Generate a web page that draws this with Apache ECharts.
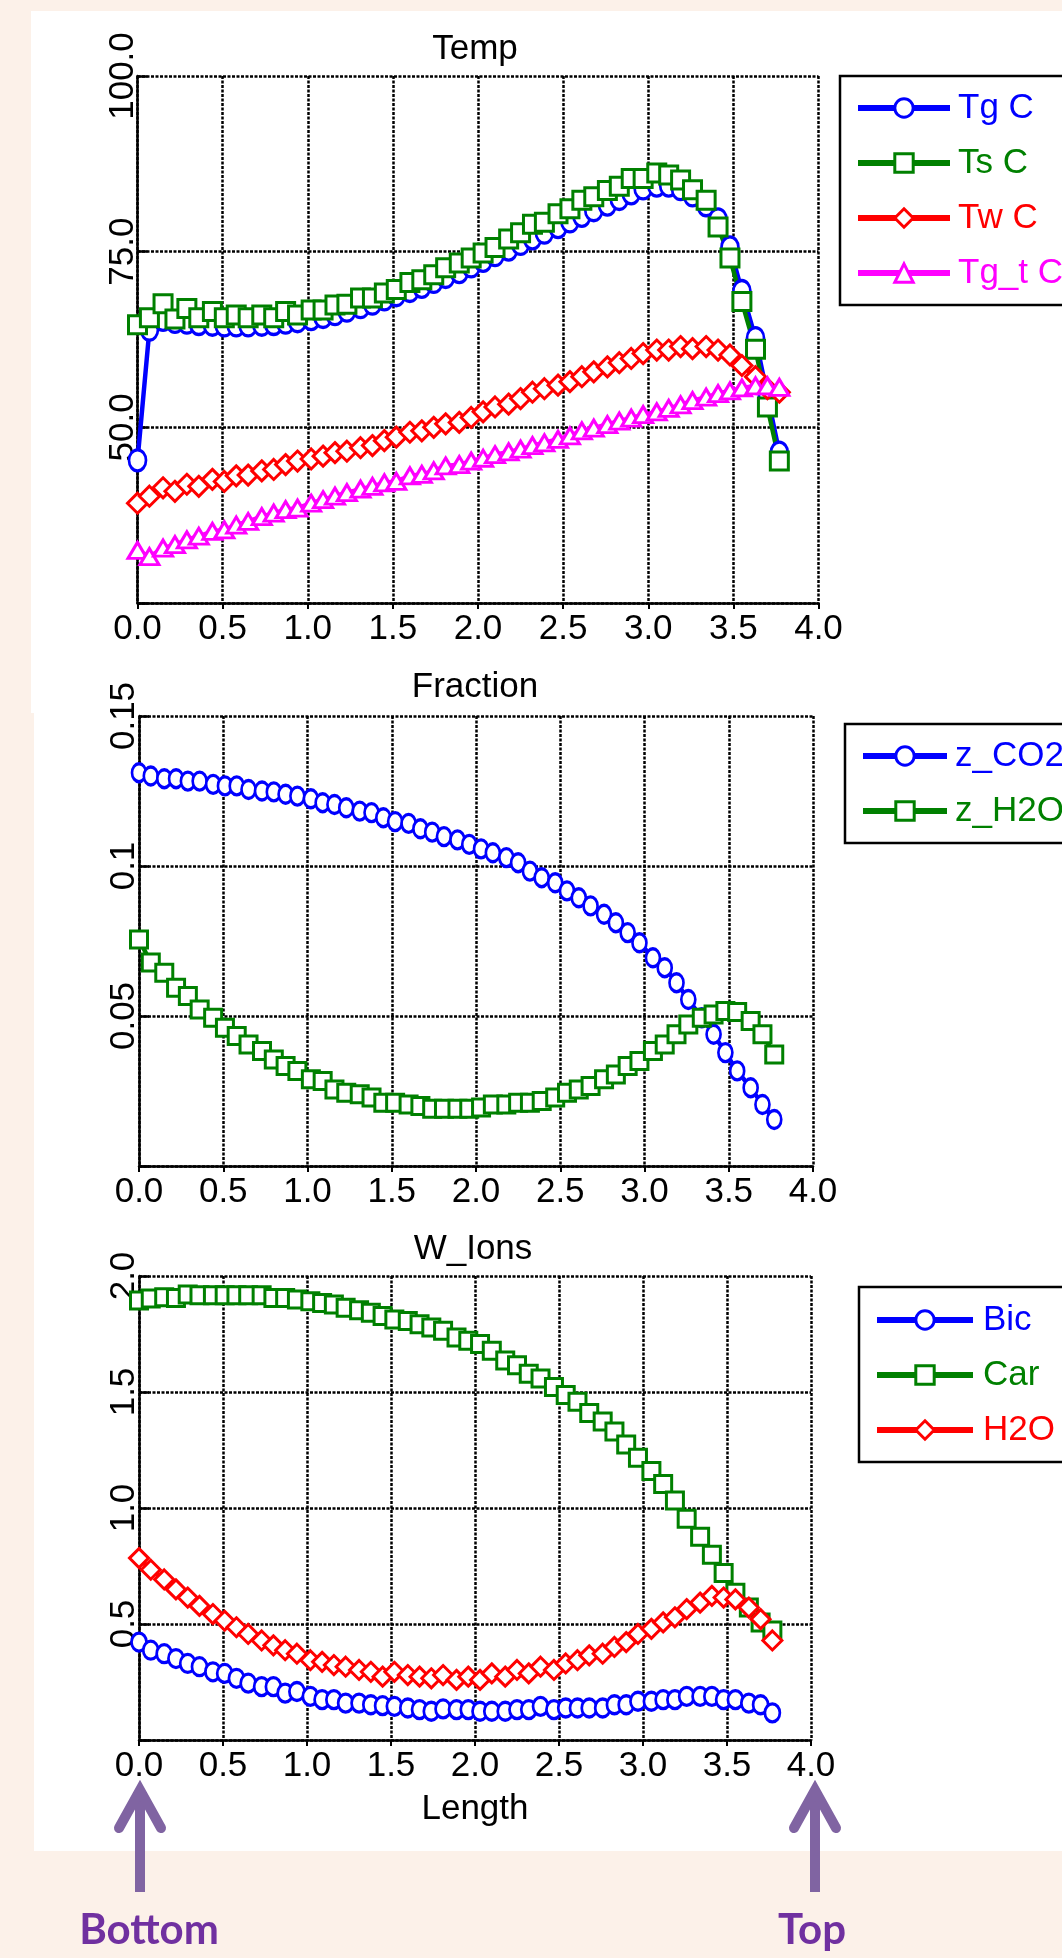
<!DOCTYPE html>
<html>
<head>
<meta charset="utf-8">
<script src="https://cdn.jsdelivr.net/npm/echarts@6/dist/echarts.min.js"></script>
<style>
  html, body { margin: 0; padding: 0; background: #fcf1e9; overflow: hidden; }
  #chart { width: 1062px; height: 1958px; }
</style>
</head>
<body>
<div id="chart"></div>
<script>
// positions along the column (same for every panel)
const lengthPts = [0.00, 0.07, 0.15, 0.22, 0.29, 0.36, 0.44, 0.51, 0.58, 0.65, 0.73, 0.80, 0.87, 0.94,
  1.02, 1.09, 1.16, 1.23, 1.31, 1.38, 1.45, 1.52, 1.60, 1.67, 1.74, 1.81, 1.89, 1.96,
  2.03, 2.10, 2.18, 2.25, 2.32, 2.39, 2.47, 2.54, 2.61, 2.68, 2.76, 2.83, 2.90, 2.97,
  3.05, 3.12, 3.19, 3.26, 3.34, 3.41, 3.48, 3.55, 3.63, 3.70, 3.77];

const lengthTicks = ['0.0', '0.5', '1.0', '1.5', '2.0', '2.5', '3.0', '3.5', '4.0'];

// Temp panel
const tgC = [45.3, 63.9, 65.3, 65.0, 64.9, 64.7, 64.6, 64.5, 64.5, 64.5, 64.6, 64.7, 64.9, 65.1,
  65.4, 65.7, 66.1, 66.6, 67.1, 67.6, 68.2, 68.8, 69.4, 70.0, 70.7, 71.4, 72.1, 72.9,
  73.7, 74.5, 75.3, 76.1, 76.9, 77.7, 78.5, 79.3, 80.1, 80.9, 81.7, 82.5, 83.3, 84.0,
  84.4, 84.4, 83.9, 83.0, 81.6, 79.6, 75.6, 69.4, 62.7, 54.5, 46.4];
const tsC = [64.6, 65.6, 67.6, 65.4, 66.9, 65.6, 66.5, 65.6, 66.0, 65.6, 66.0, 65.6, 66.5, 66.0,
  66.7, 66.7, 67.4, 67.5, 68.4, 68.4, 69.1, 69.6, 70.6, 71.0, 71.7, 72.7, 73.4, 74.1,
  74.8, 75.6, 76.8, 77.7, 78.9, 79.2, 80.4, 81.1, 82.3, 82.8, 83.7, 84.3, 85.4, 85.4,
  86.2, 85.9, 85.2, 83.8, 82.3, 78.5, 74.1, 67.9, 61.1, 52.9, 45.2];
const twC = [39.2, 40.2, 41.4, 40.9, 41.9, 41.6, 42.6, 42.3, 43.1, 43.2, 43.8, 44.0, 44.7, 45.2,
  45.5, 45.9, 46.4, 46.6, 47.1, 47.4, 48.1, 48.6, 49.3, 49.5, 50.0, 50.5, 50.7, 51.4,
  52.2, 52.9, 53.3, 54.1, 55.0, 55.5, 56.0, 56.5, 57.2, 57.9, 58.6, 59.2, 59.8, 60.5,
  61.0, 61.0, 61.5, 61.2, 61.5, 61.0, 60.3, 58.8, 57.2, 55.5, 55.0];
const tgtC = [32.5, 31.6, 32.8, 33.3, 34.0, 34.5, 35.2, 35.4, 36.1, 36.6, 37.3, 37.8, 38.3, 38.5,
  39.2, 39.7, 40.2, 40.7, 41.2, 41.6, 42.1, 42.3, 43.1, 43.3, 43.8, 44.5, 44.7, 45.2,
  45.6, 46.1, 46.5, 46.9, 47.4, 47.8, 48.3, 48.8, 49.5, 49.9, 50.4, 50.9, 51.3, 51.8,
  52.2, 52.7, 53.2, 53.8, 54.3, 54.8, 55.2, 55.6, 55.9, 55.9, 55.7];
const tempTicks = ['50.0', '75.0', '100.0'];

// Fraction panel
const zCO2 = [0.1311, 0.1300, 0.1291, 0.1291, 0.1283, 0.1283, 0.1272, 0.1267, 0.1267, 0.1255, 0.1250, 0.1247, 0.1239, 0.1233,
  0.1224, 0.1211, 0.1205, 0.1194, 0.1183, 0.1178, 0.1161, 0.1148, 0.1142, 0.1124, 0.1113, 0.1098, 0.1087, 0.1072,
  0.1057, 0.1044, 0.1028, 0.1011, 0.0983, 0.0961, 0.0944, 0.0917, 0.0894, 0.0867, 0.0839, 0.0811, 0.0778, 0.0744,
  0.0694, 0.0661, 0.0611, 0.0555, 0.0494, 0.0439, 0.0378, 0.0317, 0.0261, 0.0205, 0.0155];
const zH2O = [0.0755, 0.0678, 0.0644, 0.0594, 0.0567, 0.0522, 0.0494, 0.0461, 0.0433, 0.0405, 0.0383, 0.0355, 0.0333, 0.0317,
  0.0289, 0.0283, 0.0255, 0.0244, 0.0239, 0.0228, 0.0211, 0.0211, 0.0205, 0.0200, 0.0191, 0.0191, 0.0191, 0.0191,
  0.0195, 0.0205, 0.0205, 0.0211, 0.0211, 0.0217, 0.0228, 0.0244, 0.0255, 0.0267, 0.0289, 0.0305, 0.0333, 0.0350,
  0.0383, 0.0405, 0.0439, 0.0472, 0.0494, 0.0505, 0.0517, 0.0513, 0.0483, 0.0439, 0.0372];
const fracTicks = ['0.05', '0.1', '0.15'];

// W_Ions panel
const bic = [0.422, 0.387, 0.372, 0.351, 0.330, 0.316, 0.294, 0.287, 0.266, 0.245, 0.230, 0.230, 0.202, 0.209,
  0.188, 0.174, 0.174, 0.159, 0.159, 0.152, 0.148, 0.145, 0.138, 0.131, 0.124, 0.134, 0.131, 0.131,
  0.124, 0.124, 0.124, 0.131, 0.131, 0.145, 0.131, 0.138, 0.138, 0.138, 0.138, 0.152, 0.152, 0.167,
  0.167, 0.174, 0.174, 0.188, 0.188, 0.188, 0.174, 0.174, 0.159, 0.152, 0.117];
const car = [1.894, 1.903, 1.908, 1.905, 1.920, 1.917, 1.917, 1.917, 1.917, 1.917, 1.917, 1.905, 1.905, 1.899,
  1.891, 1.884, 1.877, 1.863, 1.852, 1.842, 1.828, 1.813, 1.806, 1.792, 1.778, 1.764, 1.735, 1.721,
  1.707, 1.678, 1.636, 1.615, 1.579, 1.558, 1.522, 1.487, 1.458, 1.409, 1.373, 1.330, 1.274, 1.217,
  1.160, 1.103, 1.032, 0.954, 0.876, 0.798, 0.720, 0.635, 0.571, 0.507, 0.472];
const h2o = [0.784, 0.734, 0.692, 0.649, 0.614, 0.578, 0.543, 0.514, 0.486, 0.457, 0.429, 0.408, 0.387, 0.372,
  0.344, 0.337, 0.323, 0.316, 0.302, 0.294, 0.273, 0.294, 0.280, 0.273, 0.266, 0.280, 0.259, 0.273,
  0.259, 0.287, 0.273, 0.302, 0.287, 0.316, 0.302, 0.330, 0.344, 0.365, 0.372, 0.401, 0.422, 0.457,
  0.479, 0.507, 0.529, 0.564, 0.592, 0.621, 0.614, 0.606, 0.571, 0.521, 0.429];
const ionTicks = ['0.5', '1.0', '1.5', '2.0'];

const FONT = "'Liberation Sans', Arial, sans-serif";
const BLUE = '#0000ff', GREEN = '#008000', RED = '#ff0000', MAGENTA = '#ff00ff';
const PURPLE = '#8064a2';

const chart = echarts.init(document.getElementById('chart'), null, { renderer: 'canvas' });

// one line series with hollow markers
function mkSeries(name, vals, color, symbol, size, idx) {
  return {
    name: name,
    type: 'line',
    xAxisIndex: idx,
    yAxisIndex: idx,
    data: lengthPts.map((x, i) => [x, vals[i]]),
    symbol: symbol,
    symbolSize: size,
    showAllSymbol: true,
    lineStyle: { color: color, width: 4.5 },
    itemStyle: { color: '#fff', borderColor: color, borderWidth: 3 },
    emphasis: { disabled: true },
    animation: false
  };
}

function mkX(idx, withName) {
  const ax = {
    type: 'value', gridIndex: idx, min: 0, max: 4, interval: 0.5,
    axisLine: { show: true, onZero: false, lineStyle: { color: '#000', width: 2.5 } },
    axisTick: { show: true, length: 6, lineStyle: { color: '#000', width: 2 } },
    axisLabel: {
      color: '#000', fontSize: 35, fontFamily: FONT, margin: 9,
      formatter: v => lengthTicks[Math.round(v / 0.5)]
    },
    splitLine: { show: true, lineStyle: { color: '#000', width: 2.5, type: [3, 1.5] } }
  };
  if (withName) {
    ax.name = 'Length';
    ax.nameLocation = 'middle';
    ax.nameGap = 52;
    ax.nameTextStyle = { color: '#000', fontSize: 35, fontFamily: FONT };
  }
  return ax;
}

function mkY(idx, min, max, step, ticks) {
  return {
    type: 'value', gridIndex: idx, min: min, max: max, interval: step,
    axisLine: { show: true, onZero: false, lineStyle: { color: '#000', width: 2.5 } },
    axisTick: { show: true, inside: true, length: 10, lineStyle: { color: '#000', width: 2.5 } },
    axisLabel: {
      color: '#000', fontSize: 35, fontFamily: FONT, rotate: 90, margin: -3,
      formatter: v => {
        const k = Math.round((v - min) / step);
        return k === 0 ? '' : ticks[k - 1];
      }
    },
    splitLine: { show: true, lineStyle: { color: '#000', width: 2.5, type: [3, 1.5] } }
  };
}

function mkLegend(names, colors, left, top, lineW, gap, pad) {
  return {
    orient: 'vertical',
    left: left, top: top,
    data: names.map((n, i) => ({ name: n, textStyle: { color: colors[i] } })),
    itemWidth: lineW, itemHeight: 23, itemGap: 15,
    padding: [pad, 260, 12, 15],
    textStyle: { fontSize: 35, fontFamily: FONT, lineHeight: 40, padding: [0, 0, 0, gap] },
    lineStyle: { width: 6 },
    itemStyle: { borderWidth: 3 },
    borderColor: '#000', borderWidth: 2.5, backgroundColor: '#fff',
    borderRadius: 0,
    selectedMode: false
  };
}

function mkTitle(text, cx, cy) {
  return {
    text: text, left: cx, top: cy - 19, textAlign: 'center', padding: 0,
    textStyle: { color: '#000', fontSize: 35, fontWeight: 'normal', fontFamily: FONT }
  };
}

function arrow(x) {
  return [
    { type: 'line', shape: { x1: x, y1: 1794, x2: x, y2: 1892 },
      style: { stroke: PURPLE, lineWidth: 10 }, z: 5 },
    { type: 'polyline', shape: { points: [[x - 21, 1828], [x, 1790], [x + 21, 1828]] },
      style: { stroke: PURPLE, lineWidth: 10, lineCap: 'round', lineJoin: 'miter', fill: null }, z: 5 }
  ];
}

const option = {
  backgroundColor: '#fcf1e9',
  animation: false,
  title: [
    mkTitle('Temp', 475, 51),
    mkTitle('Fraction', 475, 689),
    mkTitle('W_Ions', 473, 1251)
  ],
  grid: [
    { left: 137.5, top: 76, width: 681, height: 527, outerBoundsMode: 'none', show: false },
    { left: 139, top: 716, width: 674, height: 450, outerBoundsMode: 'none', show: false },
    { left: 139, top: 1276, width: 672, height: 464, outerBoundsMode: 'none', show: false }
  ],
  xAxis: [mkX(0, false), mkX(1, false), mkX(2, true)],
  yAxis: [
    mkY(0, 25, 100, 25, tempTicks),
    mkY(1, 0, 0.15, 0.05, fracTicks),
    mkY(2, 0, 2, 0.5, ionTicks)
  ],
  legend: [
    mkLegend(['Tg C', 'Ts C', 'Tw C', 'Tg_t C'], [BLUE, GREEN, RED, MAGENTA], 840, 76, 92, 3, 12),
    mkLegend(['z_CO2', 'z_H2O'], [BLUE, GREEN], 845, 724, 84, 3, 12),
    mkLegend(['Bic', 'Car', 'H2O'], [BLUE, GREEN, RED], 859, 1287, 96, 5, 13)
  ],
  graphic: [
    { type: 'rect', shape: { x: 31, y: 11, width: 1031, height: 702 }, style: { fill: '#fff' }, z: -10 },
    { type: 'rect', shape: { x: 34, y: 713, width: 1028, height: 1138 }, style: { fill: '#fff' }, z: -10 },
    ...arrow(140),
    ...arrow(815),
    { type: 'text', style: { text: 'Bottom', x: 149, y: 1930, textAlign: 'center', textVerticalAlign: 'middle',
      fill: '#7030a0', font: "bold 42px Lato, 'Open Sans', sans-serif" }, z: 5 },
    { type: 'text', style: { text: 'Top', x: 812, y: 1930, textAlign: 'center', textVerticalAlign: 'middle',
      fill: '#7030a0', font: "bold 42px Lato, 'Open Sans', sans-serif" }, z: 5 }
  ],
  series: [
    mkSeries('Tg C', tgC, BLUE, 'circle', [17, 21], 0),
    mkSeries('Ts C', tsC, GREEN, 'rect', [18, 18], 0),
    mkSeries('Tw C', twC, RED, 'diamond', [20, 20], 0),
    mkSeries('Tg_t C', tgtC, MAGENTA, 'triangle', [19, 16], 0),
    mkSeries('z_CO2', zCO2, BLUE, 'circle', [14, 18], 1),
    mkSeries('z_H2O', zH2O, GREEN, 'rect', [17, 17], 1),
    mkSeries('Bic', bic, BLUE, 'circle', [15, 18], 2),
    mkSeries('Car', car, GREEN, 'rect', [17, 17], 2),
    mkSeries('H2O', h2o, RED, 'diamond', [19, 19], 2)
  ]
};

chart.setOption(option);
</script>
</body>
</html>
